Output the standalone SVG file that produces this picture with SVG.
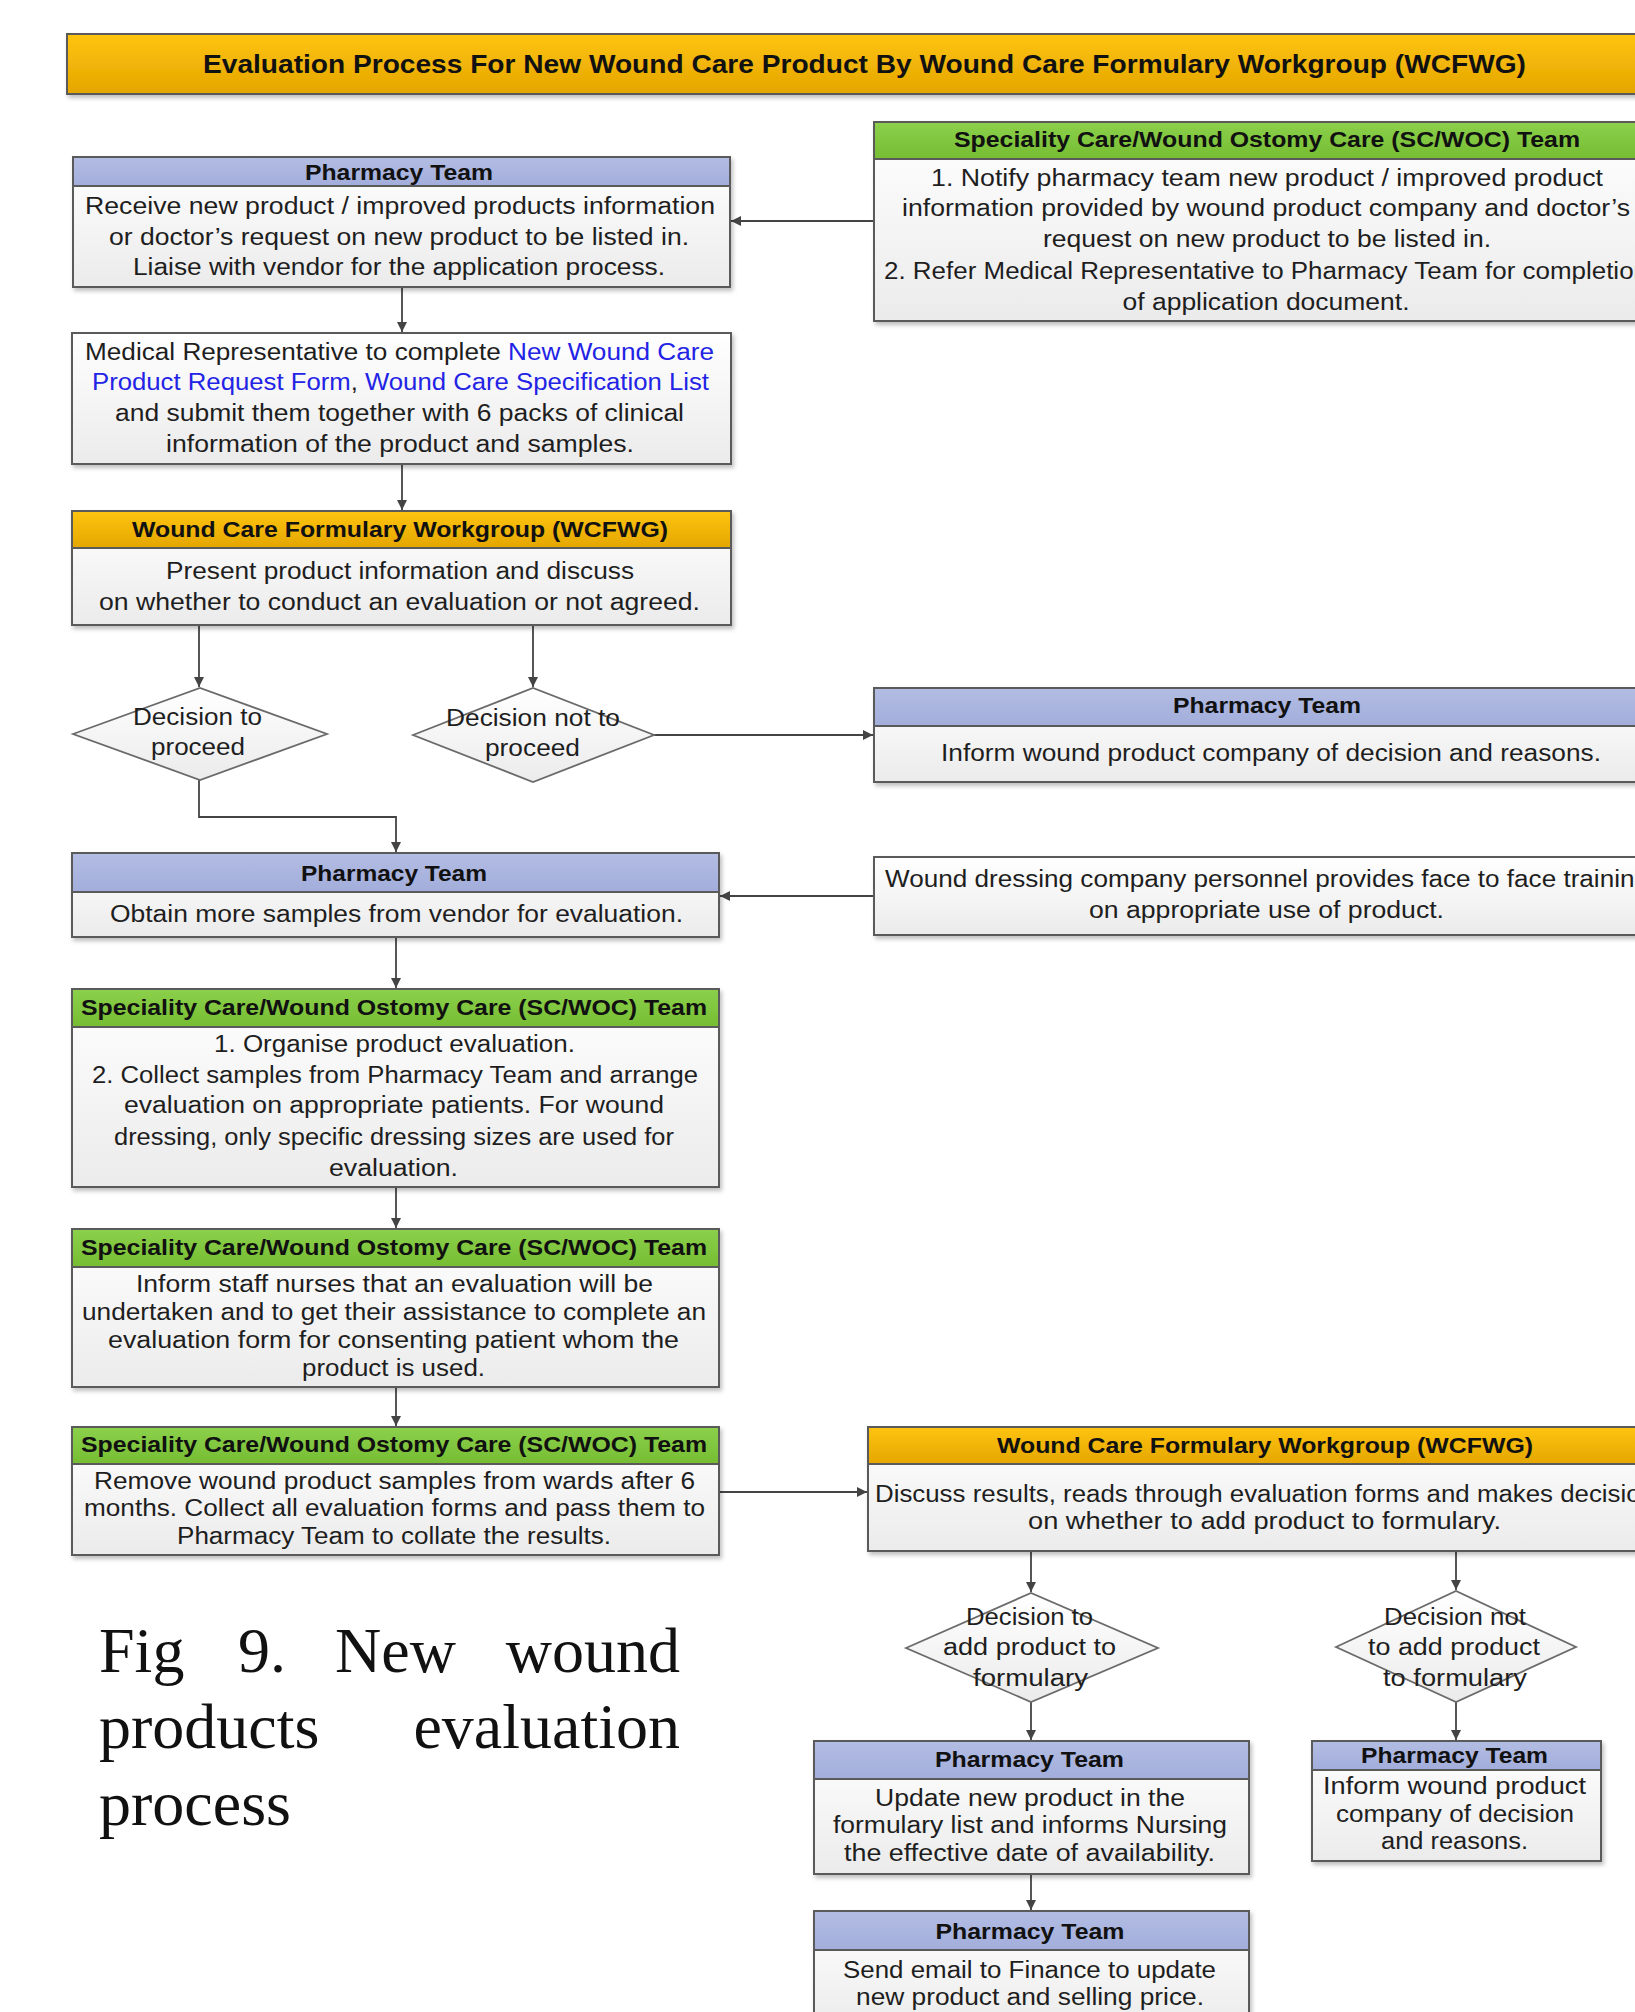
<svg xmlns="http://www.w3.org/2000/svg" width="1635" height="2012" viewBox="0 0 1635 2012">
<style>
.bg{fill:#ffffff}
.body{fill:url(#gBody);stroke:#5a5a5a;stroke-width:2}
.hp{fill:url(#gPh);stroke:#5a5a5a;stroke-width:2}
.hg{fill:url(#gGr);stroke:#5a5a5a;stroke-width:2}
.ha{fill:url(#gAu);stroke:#5a5a5a;stroke-width:2}
.dia{fill:url(#gBody);stroke:#6a6a6a;stroke-width:1.8}
.t{font-family:"Liberation Sans",Arial,sans-serif;font-size:23px;fill:#1e1e1e;text-anchor:middle}
.h{font-family:"Liberation Sans",Arial,sans-serif;font-size:22px;font-weight:bold;fill:#111;text-anchor:middle}
.ttl{font-family:"Liberation Sans",Arial,sans-serif;font-size:25px;font-weight:bold;fill:#111;text-anchor:middle}
.lnk{fill:#2323e6}
.cap{font-family:"Liberation Serif","Times New Roman",serif;font-size:64px;fill:#111}
.c{fill:none;stroke:#444;stroke-width:1.8}
</style>
<defs>
<linearGradient id="gBody" x1="0" y1="0" x2="0" y2="1"><stop offset="0" stop-color="#ffffff"/><stop offset="1" stop-color="#ebebeb"/></linearGradient>
<linearGradient id="gPh" x1="0" y1="0" x2="0" y2="1"><stop offset="0" stop-color="#b3bde3"/><stop offset="1" stop-color="#a2addb"/></linearGradient>
<linearGradient id="gGr" x1="0" y1="0" x2="0" y2="1"><stop offset="0" stop-color="#8cd04b"/><stop offset="1" stop-color="#76bd33"/></linearGradient>
<linearGradient id="gAu" x1="0" y1="0" x2="0" y2="1"><stop offset="0" stop-color="#ffc410"/><stop offset="1" stop-color="#e4a600"/></linearGradient>
<filter id="sh" x="-5%" y="-5%" width="110%" height="120%"><feDropShadow dx="2" dy="3" stdDeviation="2" flood-color="#000" flood-opacity="0.25"/></filter>
<marker id="ar" markerUnits="userSpaceOnUse" markerWidth="12" markerHeight="12" refX="10" refY="5" orient="auto"><path d="M0,0 L10,5 L0,10 z" fill="#444"/></marker>
</defs>
<rect class="bg" x="0" y="0" width="1635" height="2012"/>

<g id="title">
<rect x="67" y="34" width="1600" height="60" fill="url(#gAu)" stroke="#5a5a5a" stroke-width="2" filter="url(#sh)"/>
<text class="ttl" x="864.5" y="73" textLength="1323" lengthAdjust="spacingAndGlyphs">Evaluation Process For New Wound Care Product By Wound Care Formulary Workgroup (WCFWG)</text>
</g>

<g id="connectors">
<path class="c" d="M874,221 H731" marker-end="url(#ar)"/>
<path class="c" d="M402,287 V332" marker-end="url(#ar)"/>
<path class="c" d="M402,464 V510" marker-end="url(#ar)"/>
<path class="c" d="M199,625 V687" marker-end="url(#ar)"/>
<path class="c" d="M533,625 V687" marker-end="url(#ar)"/>
<path class="c" d="M654,735 H873" marker-end="url(#ar)"/>
<path class="c" d="M199,780 V817 H396 V852" marker-end="url(#ar)"/>
<path class="c" d="M874,896 H720" marker-end="url(#ar)"/>
<path class="c" d="M396,937 V988" marker-end="url(#ar)"/>
<path class="c" d="M396,1187 V1228" marker-end="url(#ar)"/>
<path class="c" d="M396,1387 V1426" marker-end="url(#ar)"/>
<path class="c" d="M719,1492 H867" marker-end="url(#ar)"/>
<path class="c" d="M1031,1551 V1592" marker-end="url(#ar)"/>
<path class="c" d="M1456,1551 V1590" marker-end="url(#ar)"/>
<path class="c" d="M1031,1702 V1740" marker-end="url(#ar)"/>
<path class="c" d="M1456,1702 V1740" marker-end="url(#ar)"/>
<path class="c" d="M1031,1874 V1910" marker-end="url(#ar)"/>
</g>

<g id="n-pharm1">
<rect class="body" x="73" y="157" width="657" height="130" filter="url(#sh)"/>
<rect class="hp" x="73" y="157" width="657" height="29"/>
<text class="h" x="399" y="180" textLength="188" lengthAdjust="spacingAndGlyphs">Pharmacy Team</text>
<text class="t" x="400" y="214" textLength="630" lengthAdjust="spacingAndGlyphs">Receive new product / improved products information</text>
<text class="t" x="399" y="245" textLength="580" lengthAdjust="spacingAndGlyphs">or doctor’s request on new product to be listed in.</text>
<text class="t" x="399" y="275" textLength="532" lengthAdjust="spacingAndGlyphs">Liaise with vendor for the application process.</text>
</g>

<g id="n-scwoc1">
<rect class="body" x="874" y="122" width="790" height="199" filter="url(#sh)"/>
<rect class="hg" x="874" y="122" width="790" height="37"/>
<text class="h" x="1267" y="147" textLength="626" lengthAdjust="spacingAndGlyphs">Speciality Care/Wound Ostomy Care (SC/WOC) Team</text>
<text class="t" x="1267" y="186" textLength="672" lengthAdjust="spacingAndGlyphs">1. Notify pharmacy team new product / improved product</text>
<text class="t" x="1266" y="216" textLength="728" lengthAdjust="spacingAndGlyphs">information provided by wound product company and doctor’s</text>
<text class="t" x="1267" y="247" textLength="448" lengthAdjust="spacingAndGlyphs">request on new product to be listed in.</text>
<text class="t" x="1266" y="279" textLength="764" lengthAdjust="spacingAndGlyphs">2. Refer Medical Representative to Pharmacy Team for completion</text>
<text class="t" x="1266" y="310" textLength="287" lengthAdjust="spacingAndGlyphs">of application document.</text>
</g>

<g id="n-medrep">
<rect class="body" x="72" y="333" width="659" height="131" filter="url(#sh)"/>
<text class="t" x="399.5" y="360" textLength="629" lengthAdjust="spacingAndGlyphs">Medical Representative to complete <tspan class="lnk">New Wound Care</tspan></text>
<text class="t" x="400.5" y="390" textLength="617" lengthAdjust="spacingAndGlyphs"><tspan class="lnk">Product Request Form</tspan>, <tspan class="lnk">Wound Care Specification List</tspan></text>
<text class="t" x="399.5" y="421" textLength="569" lengthAdjust="spacingAndGlyphs">and submit them together with 6 packs of clinical</text>
<text class="t" x="400" y="452" textLength="468" lengthAdjust="spacingAndGlyphs">information of the product and samples.</text>
</g>

<g id="n-wcfwg1">
<rect class="body" x="72" y="511" width="659" height="114" filter="url(#sh)"/>
<rect class="ha" x="72" y="511" width="659" height="37"/>
<text class="h" x="400" y="537" textLength="536" lengthAdjust="spacingAndGlyphs">Wound Care Formulary Workgroup (WCFWG)</text>
<text class="t" x="400" y="579" textLength="468" lengthAdjust="spacingAndGlyphs">Present product information and discuss</text>
<text class="t" x="399.5" y="610" textLength="601" lengthAdjust="spacingAndGlyphs">on whether to conduct an evaluation or not agreed.</text>
</g>

<g id="d-proceed">
<polygon class="dia" points="73,734 200,688 327,734 200,780"/>
<text class="t" x="197.5" y="725" textLength="129" lengthAdjust="spacingAndGlyphs">Decision to</text>
<text class="t" x="198" y="755" textLength="94" lengthAdjust="spacingAndGlyphs">proceed</text>
</g>

<g id="d-notproceed">
<polygon class="dia" points="413,735 533,688 654,735 533,782"/>
<text class="t" x="533" y="726" textLength="174" lengthAdjust="spacingAndGlyphs">Decision not to</text>
<text class="t" x="532.5" y="756" textLength="95" lengthAdjust="spacingAndGlyphs">proceed</text>
</g>

<g id="n-pharm-inform1">
<rect class="body" x="874" y="688" width="790" height="94" filter="url(#sh)"/>
<rect class="hp" x="874" y="688" width="790" height="38"/>
<text class="h" x="1267" y="713" textLength="188" lengthAdjust="spacingAndGlyphs">Pharmacy Team</text>
<text class="t" x="1271" y="761" textLength="660" lengthAdjust="spacingAndGlyphs">Inform wound product company of decision and reasons.</text>
</g>

<g id="n-training">
<rect class="body" x="874" y="857" width="790" height="78" filter="url(#sh)"/>
<text class="t" x="1267" y="887" textLength="764" lengthAdjust="spacingAndGlyphs">Wound dressing company personnel provides face to face training</text>
<text class="t" x="1266.5" y="918" textLength="355" lengthAdjust="spacingAndGlyphs">on appropriate use of product.</text>
</g>

<g id="n-pharm-samples">
<rect class="body" x="72" y="853" width="647" height="84" filter="url(#sh)"/>
<rect class="hp" x="72" y="853" width="647" height="39"/>
<text class="h" x="394" y="881" textLength="186" lengthAdjust="spacingAndGlyphs">Pharmacy Team</text>
<text class="t" x="396.5" y="922" textLength="573" lengthAdjust="spacingAndGlyphs">Obtain more samples from vendor for evaluation.</text>
</g>

<g id="n-scwoc-organise">
<rect class="body" x="72" y="989" width="647" height="198" filter="url(#sh)"/>
<rect class="hg" x="72" y="989" width="647" height="38"/>
<text class="h" x="394" y="1015" textLength="626" lengthAdjust="spacingAndGlyphs">Speciality Care/Wound Ostomy Care (SC/WOC) Team</text>
<text class="t" x="394.5" y="1052" textLength="361" lengthAdjust="spacingAndGlyphs">1. Organise product evaluation.</text>
<text class="t" x="395" y="1083" textLength="606" lengthAdjust="spacingAndGlyphs">2. Collect samples from Pharmacy Team and arrange</text>
<text class="t" x="394" y="1113" textLength="540" lengthAdjust="spacingAndGlyphs">evaluation on appropriate patients. For wound</text>
<text class="t" x="394" y="1145" textLength="560" lengthAdjust="spacingAndGlyphs">dressing, only specific dressing sizes are used for</text>
<text class="t" x="393.5" y="1176" textLength="129" lengthAdjust="spacingAndGlyphs">evaluation.</text>
</g>

<g id="n-scwoc-inform">
<rect class="body" x="72" y="1229" width="647" height="158" filter="url(#sh)"/>
<rect class="hg" x="72" y="1229" width="647" height="38"/>
<text class="h" x="394" y="1255" textLength="626" lengthAdjust="spacingAndGlyphs">Speciality Care/Wound Ostomy Care (SC/WOC) Team</text>
<text class="t" x="394.5" y="1292" textLength="517" lengthAdjust="spacingAndGlyphs">Inform staff nurses that an evaluation will be</text>
<text class="t" x="394" y="1320" textLength="624" lengthAdjust="spacingAndGlyphs">undertaken and to get their assistance to complete an</text>
<text class="t" x="393.5" y="1348" textLength="571" lengthAdjust="spacingAndGlyphs">evaluation form for consenting patient whom the</text>
<text class="t" x="393.5" y="1376" textLength="183" lengthAdjust="spacingAndGlyphs">product is used.</text>
</g>

<g id="n-scwoc-remove">
<rect class="body" x="72" y="1427" width="647" height="128" filter="url(#sh)"/>
<rect class="hg" x="72" y="1427" width="647" height="37"/>
<text class="h" x="394" y="1452" textLength="626" lengthAdjust="spacingAndGlyphs">Speciality Care/Wound Ostomy Care (SC/WOC) Team</text>
<text class="t" x="394.5" y="1489" textLength="601" lengthAdjust="spacingAndGlyphs">Remove wound product samples from wards after 6</text>
<text class="t" x="394.5" y="1516" textLength="621" lengthAdjust="spacingAndGlyphs">months. Collect all evaluation forms and pass them to</text>
<text class="t" x="394" y="1544" textLength="434" lengthAdjust="spacingAndGlyphs">Pharmacy Team to collate the results.</text>
</g>

<g id="n-wcfwg2">
<rect class="body" x="868" y="1427" width="796" height="124" filter="url(#sh)"/>
<rect class="ha" x="868" y="1427" width="796" height="37"/>
<text class="h" x="1265" y="1453" textLength="536" lengthAdjust="spacingAndGlyphs">Wound Care Formulary Workgroup (WCFWG)</text>
<text class="t" x="1265" y="1502" textLength="780" lengthAdjust="spacingAndGlyphs">Discuss results, reads through evaluation forms and makes decision</text>
<text class="t" x="1264.5" y="1529" textLength="473" lengthAdjust="spacingAndGlyphs">on whether to add product to formulary.</text>
</g>

<g id="d-add">
<polygon class="dia" points="906,1648 1031,1593 1158,1648 1031,1702"/>
<text class="t" x="1029.5" y="1625" textLength="127" lengthAdjust="spacingAndGlyphs">Decision to</text>
<text class="t" x="1029.5" y="1655" textLength="173" lengthAdjust="spacingAndGlyphs">add product to</text>
<text class="t" x="1030.5" y="1686" textLength="115" lengthAdjust="spacingAndGlyphs">formulary</text>
</g>

<g id="d-notadd">
<polygon class="dia" points="1336,1647 1456,1591 1576,1647 1456,1702"/>
<text class="t" x="1455" y="1625" textLength="142" lengthAdjust="spacingAndGlyphs">Decision not</text>
<text class="t" x="1454" y="1655" textLength="172" lengthAdjust="spacingAndGlyphs">to add product</text>
<text class="t" x="1455" y="1686" textLength="144" lengthAdjust="spacingAndGlyphs">to formulary</text>
</g>

<g id="n-pharm-update">
<rect class="body" x="814" y="1741" width="435" height="133" filter="url(#sh)"/>
<rect class="hp" x="814" y="1741" width="435" height="38"/>
<text class="h" x="1029.5" y="1767" textLength="189" lengthAdjust="spacingAndGlyphs">Pharmacy Team</text>
<text class="t" x="1030" y="1806" textLength="310" lengthAdjust="spacingAndGlyphs">Update new product in the</text>
<text class="t" x="1030" y="1833" textLength="394" lengthAdjust="spacingAndGlyphs">formulary list and informs Nursing</text>
<text class="t" x="1029.5" y="1861" textLength="371" lengthAdjust="spacingAndGlyphs">the effective date of availability.</text>
</g>

<g id="n-pharm-inform2">
<rect class="body" x="1312" y="1741" width="289" height="120" filter="url(#sh)"/>
<rect class="hp" x="1312" y="1741" width="289" height="29"/>
<text class="h" x="1454.5" y="1763" textLength="187" lengthAdjust="spacingAndGlyphs">Pharmacy Team</text>
<text class="t" x="1454.5" y="1794" textLength="263" lengthAdjust="spacingAndGlyphs">Inform wound product</text>
<text class="t" x="1455" y="1822" textLength="238" lengthAdjust="spacingAndGlyphs">company of decision</text>
<text class="t" x="1454.5" y="1849" textLength="147" lengthAdjust="spacingAndGlyphs">and reasons.</text>
</g>

<g id="n-pharm-email">
<rect class="body" x="814" y="1911" width="435" height="120" filter="url(#sh)"/>
<rect class="hp" x="814" y="1911" width="435" height="39"/>
<text class="h" x="1030" y="1939" textLength="189" lengthAdjust="spacingAndGlyphs">Pharmacy Team</text>
<text class="t" x="1029.5" y="1978" textLength="373" lengthAdjust="spacingAndGlyphs">Send email to Finance to update</text>
<text class="t" x="1030" y="2005" textLength="348" lengthAdjust="spacingAndGlyphs">new product and selling price.</text>
</g>

<g id="caption">
<text class="cap" x="99" y="1672">Fig</text>
<text class="cap" x="238" y="1672">9.</text>
<text class="cap" x="335" y="1672">New</text>
<text class="cap" x="680" y="1672" text-anchor="end">wound</text>
<text class="cap" x="99" y="1748">products</text>
<text class="cap" x="680" y="1748" text-anchor="end">evaluation</text>
<text class="cap" x="99" y="1825">process</text>
</g>
</svg>
